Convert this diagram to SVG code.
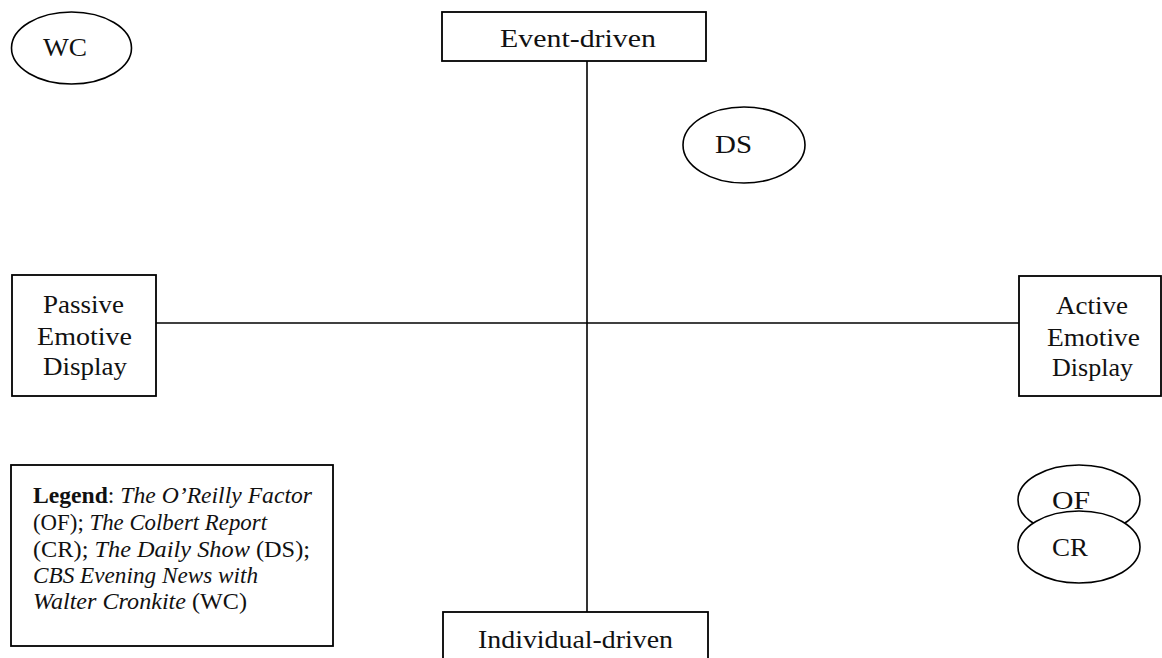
<svg xmlns="http://www.w3.org/2000/svg" width="1162" height="658" viewBox="0 0 1162 658">
<style>
.bg{fill:#fff}
.box{fill:#fff;stroke:#000;stroke-width:1.8}
.ell{fill:#fff;stroke:#000;stroke-width:1.6}
.axis{stroke:#000;stroke-width:1.6;fill:none}
text{font-family:"Liberation Serif","Times New Roman",serif;font-size:26px;fill:#111}
.lg{font-size:24px}
</style>
<rect class="bg" x="0" y="0" width="1162" height="658"/>
<g id="connectors">
<line class="axis" x1="587" y1="61" x2="587" y2="612"/>
<line class="axis" x1="156" y1="323" x2="1019" y2="323"/>
</g>
<g id="node-event">
<rect class="box" x="442" y="12" width="264" height="49"/>
<text x="500" y="47" textLength="156" lengthAdjust="spacingAndGlyphs">Event-driven</text>
</g>
<g id="node-individual">
<rect class="box" x="443" y="612" width="265" height="60"/>
<text x="478" y="648" textLength="195" lengthAdjust="spacingAndGlyphs">Individual-driven</text>
</g>
<g id="node-passive">
<rect class="box" x="12" y="275" width="144" height="121"/>
<text x="43" y="313" textLength="81" lengthAdjust="spacingAndGlyphs">Passive</text>
<text x="37" y="345" textLength="95" lengthAdjust="spacingAndGlyphs">Emotive</text>
<text x="43" y="375" textLength="84" lengthAdjust="spacingAndGlyphs">Display</text>
</g>
<g id="node-active">
<rect class="box" x="1019" y="276" width="142" height="120"/>
<text x="1056" y="314" textLength="72" lengthAdjust="spacingAndGlyphs">Active</text>
<text x="1047" y="346" textLength="93" lengthAdjust="spacingAndGlyphs">Emotive</text>
<text x="1052" y="376" textLength="81" lengthAdjust="spacingAndGlyphs">Display</text>
</g>
<g id="node-wc">
<ellipse class="ell" cx="71.5" cy="48" rx="60" ry="36"/>
<text x="43" y="56" textLength="44" lengthAdjust="spacingAndGlyphs">WC</text>
</g>
<g id="node-ds">
<ellipse class="ell" cx="744" cy="145" rx="61" ry="38"/>
<text x="715" y="153" textLength="37" lengthAdjust="spacingAndGlyphs">DS</text>
</g>
<g id="node-of">
<ellipse class="ell" cx="1079" cy="500" rx="61" ry="35"/>
<text x="1052" y="509" textLength="38" lengthAdjust="spacingAndGlyphs">OF</text>
</g>
<g id="node-cr">
<ellipse class="ell" cx="1079" cy="547" rx="61" ry="36"/>
<text x="1052" y="556" textLength="36" lengthAdjust="spacingAndGlyphs">CR</text>
</g>
<g id="node-legend">
<rect class="box" x="11" y="465" width="322" height="181"/>
<text class="lg" x="33" y="503" textLength="279" lengthAdjust="spacingAndGlyphs"><tspan font-weight="bold">Legend</tspan>: <tspan font-style="italic">The O’Reilly Factor</tspan></text>
<text class="lg" x="33" y="530" textLength="234" lengthAdjust="spacingAndGlyphs">(OF); <tspan font-style="italic">The Colbert Report</tspan></text>
<text class="lg" x="33" y="557" textLength="277" lengthAdjust="spacingAndGlyphs">(CR); <tspan font-style="italic">The Daily Show</tspan> (DS);</text>
<text class="lg" x="33" y="583" textLength="225" lengthAdjust="spacingAndGlyphs" font-style="italic">CBS Evening News with</text>
<text class="lg" x="33" y="609" textLength="214" lengthAdjust="spacingAndGlyphs"><tspan font-style="italic">Walter Cronkite</tspan> (WC)</text>
</g>
</svg>
